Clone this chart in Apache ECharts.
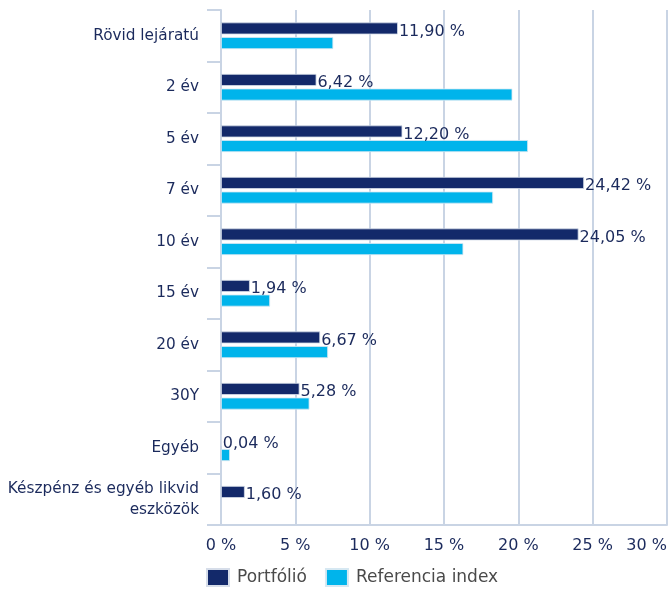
<!DOCTYPE html>
<html>
<head>
<meta charset="utf-8">
<script src="https://cdn.jsdelivr.net/npm/echarts@6/dist/echarts.min.js"></script>
<style>html,body{margin:0;padding:0;background:#fff}#c{width:670px;height:592px}</style>
</head>
<body>
<div id="c"></div>
<script>
const categories = ['Rövid lejáratú', '2 év', '5 év', '7 év', '10 év', '15 év', '20 év', '30Y', 'Egyéb', 'Készpénz és egyéb likvid\neszközök'];
const portfolio = [11.90, 6.42, 12.20, 24.42, 24.05, 1.94, 6.67, 5.28, 0.04, 1.60];
const referencia = [7.55, 19.6, 20.65, 18.3, 16.3, 3.3, 7.2, 5.95, 0.6, null];
const xTicks = { min: 0, max: 30, interval: 5 };
const seriesNames = ['Portfólió', 'Referencia index'];

const navy = '#13296a';
const cyan = '#00b4eb';
const txt = '#1b2a5c';
const font = 'DejaVu Sans';

const chart = echarts.init(document.getElementById('c'));
chart.setOption({
  animation: false,
  textStyle: { fontFamily: font },
  grid: { left: 221, right: 2, top: 10, bottom: 67, containLabel: false },
  legend: {
    left: 206, top: 568, padding: 0,
    itemWidth: 22, itemHeight: 17, itemGap: 18,
    icon: 'rect',
    textStyle: { color: '#4a4a4a', fontSize: 17, fontFamily: font, padding: [0, 0, 0, 3] },
    data: seriesNames
  },
  xAxis: {
    type: 'value', min: xTicks.min, max: xTicks.max, interval: xTicks.interval,
    axisLine: { show: true, lineStyle: { color: '#c9d4e4', width: 2 } },
    axisTick: { show: false },
    splitLine: { show: true, lineStyle: { color: '#c9d4e4', width: 2 } },
    axisLabel: {
      color: txt, fontSize: 16, fontFamily: font, margin: 13,
      alignMaxLabel: 'right',
      formatter: v => v + ' %'
    }
  },
  yAxis: {
    type: 'category', data: categories, inverse: true,
    axisLine: { show: true, lineStyle: { color: '#c9d4e4', width: 2 } },
    axisTick: { show: true, length: 14, lineStyle: { color: '#c9d4e4', width: 2 } },
    axisLabel: { color: txt, fontSize: 15.3, fontFamily: font, margin: 22, lineHeight: 21, align: 'right' }
  },
  series: [
    {
      name: seriesNames[0], type: 'bar', data: portfolio,
      barWidth: 12, barGap: '22%',
      itemStyle: { color: navy, borderColor: '#d6dde9', borderWidth: 0.8 },
      label: {
        show: true, position: 'right', distance: 1, offset: [0, 3],
        color: txt, fontSize: 16, fontFamily: font,
        formatter: p => p.value.toFixed(2).replace('.', ',') + ' %'
      }
    },
    {
      name: seriesNames[1], type: 'bar', data: referencia,
      barWidth: 12, barGap: '22%',
      itemStyle: { color: cyan, borderColor: '#d6e8f2', borderWidth: 0.8 }
    }
  ]
});
</script>
</body>
</html>
